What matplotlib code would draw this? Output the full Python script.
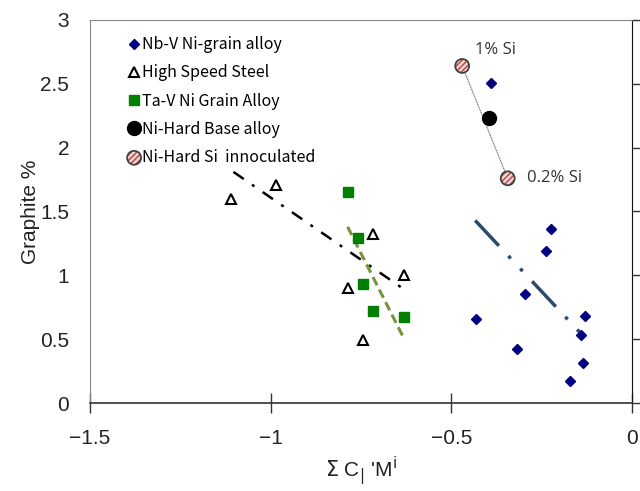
import numpy as np
import matplotlib
matplotlib.use("Agg")
import matplotlib.pyplot as plt

# Nb-V Ni-grain alloy
nbv_x = [-0.389, -0.225, -0.238, -0.296, -0.432, -0.131, -0.142, -0.317, -0.136, -0.171]
nbv_y = [2.51, 1.36, 1.19, 0.85, 0.66, 0.68, 0.53, 0.42, 0.31, 0.17]
# High Speed Steel
hss_x = [-1.11, -0.984, -0.717, -0.632, -0.787, -0.745]
hss_y = [1.60, 1.71, 1.32, 1.00, 0.90, 0.49]
# Ta-V Ni Grain Alloy
tav_x = [-0.787, -0.758, -0.745, -0.717, -0.632]
tav_y = [1.65, 1.29, 0.93, 0.72, 0.67]
# Ni-Hard base and Si inoculated
base_x = [-0.395]
base_y = [2.23]
si_x = [-0.470, -0.344]
si_y = [2.64, 1.76]
si_labels = ["1% Si", "0.2% Si"]

# trend line end points
nbv_fit_x = [-0.434, -0.130]
nbv_fit_y = [1.43, 0.51]
hss_fit_x = [-1.103, -0.628]
hss_fit_y = [1.81, 0.885]
tav_fit_x = [-0.787, -0.632]
tav_fit_y = [1.38, 0.51]

plt.rcParams['hatch.linewidth'] = 1.2

fig = plt.figure(figsize=(6.4, 4.91), dpi=100)
ax = fig.add_axes([0.1406, 0.1792, 0.8469, 0.7801])

# trend lines
ax.plot(nbv_fit_x, nbv_fit_y, color='#2e4a6b', lw=2.5, dashes=[10, 4, 1, 4, 1, 4], zorder=2)
ax.plot(hss_fit_x, hss_fit_y, color='black', lw=1.8, dashes=[5, 4, 1.2, 4], zorder=2)
ax.plot(tav_fit_x, tav_fit_y, color='#77933c', lw=2.2, dashes=[3, 1.6], zorder=2)
ax.plot(si_x, si_y, color='#666666', lw=0.8, ls=(0, (1, 0.6)), zorder=2)

h1, = ax.plot(nbv_x, nbv_y, 'D', ms=5.5, color='#000080', ls='none', zorder=3)
h2, = ax.plot(hss_x, hss_y, '^', ms=6.5, mfc='white', mec='black', mew=1.5, ls='none',
              zorder=3)
h3, = ax.plot(tav_x, tav_y, 's', ms=7.5, color='#008000', ls='none', zorder=3)
h4, = ax.plot(base_x, base_y, 'o', ms=10, color='black', ls='none', zorder=3)
h5a = ax.scatter(si_x, si_y, s=100, facecolor='#f2dcdb', edgecolor='#c0504d', hatch='//////',
                 linewidth=0, zorder=3)
h5b = ax.scatter(si_x, si_y, s=100, facecolor='none', edgecolor='#404040', linewidth=1.3,
                 zorder=4)

ax.annotate(si_labels[0], (si_x[0], si_y[0]), xytext=(9, 6), textcoords='offset points',
            fontsize=12, family='Open Sans', color='#333333', ha='left', va='bottom')
ax.annotate(si_labels[1], (si_x[1], si_y[1]), xytext=(14, 0), textcoords='offset points',
            fontsize=12, family='Open Sans', color='#333333', ha='left', va='center')

ax.set_xlim(-1.5, 0)
ax.set_ylim(0, 3)
ax.set_xticks([-1.5, -1, -0.5, 0])
ax.set_xticklabels(['\u22121.5', '\u22121', '\u22120.5', '0'])
ax.set_yticks([0, 0.5, 1, 1.5, 2, 2.5, 3])
ax.set_yticklabels(['0', '0.5', '1', '1.5', '2', '2.5', '3'])

for lbl in ax.get_xticklabels() + ax.get_yticklabels():
    lbl.set_family('Liberation Sans')
    lbl.set_fontsize(15)
    lbl.set_color('#222222')

ax.tick_params(axis='x', direction='inout', length=14, width=1, color='#333333', pad=12)
ax.tick_params(axis='y', left=False, right=True, direction='out', length=7, width=1,
               color='#333333', pad=8)

ax.spines['left'].set_color('#888888')
ax.spines['top'].set_color('#888888')
ax.spines['bottom'].set_color('#333333')
ax.spines['right'].set_color('#111111')
ax.spines['bottom'].set_linewidth(1.2)

ax.set_ylabel('Graphite %', fontsize=15, family='Liberation Sans', color='#222222', labelpad=0)
ax.set_xlabel(r"$\Sigma$ C$_{\rm |}$ 'M$^{\rm i}$", fontsize=15, family='Liberation Sans',
              color='#222222', labelpad=4)

leg = ax.legend(handles=[h1, h2, h3, h4, (h5a, h5b)],
                labels=['Nb-V Ni-grain alloy', 'High Speed Steel', 'Ta-V Ni Grain Alloy',
                        'Ni-Hard Base alloy', 'Ni-Hard Si  innoculated'],
                loc='upper left', bbox_to_anchor=(0.046, 0.995),
                frameon=False, handlelength=0.6, handletextpad=0.2, labelspacing=0.7,
                prop={'family': ['Noto Sans CJK JP', 'DejaVu Sans'], 'size': 11.5})
leg.set_zorder(5)

fig.savefig('out.png', dpi=100)
